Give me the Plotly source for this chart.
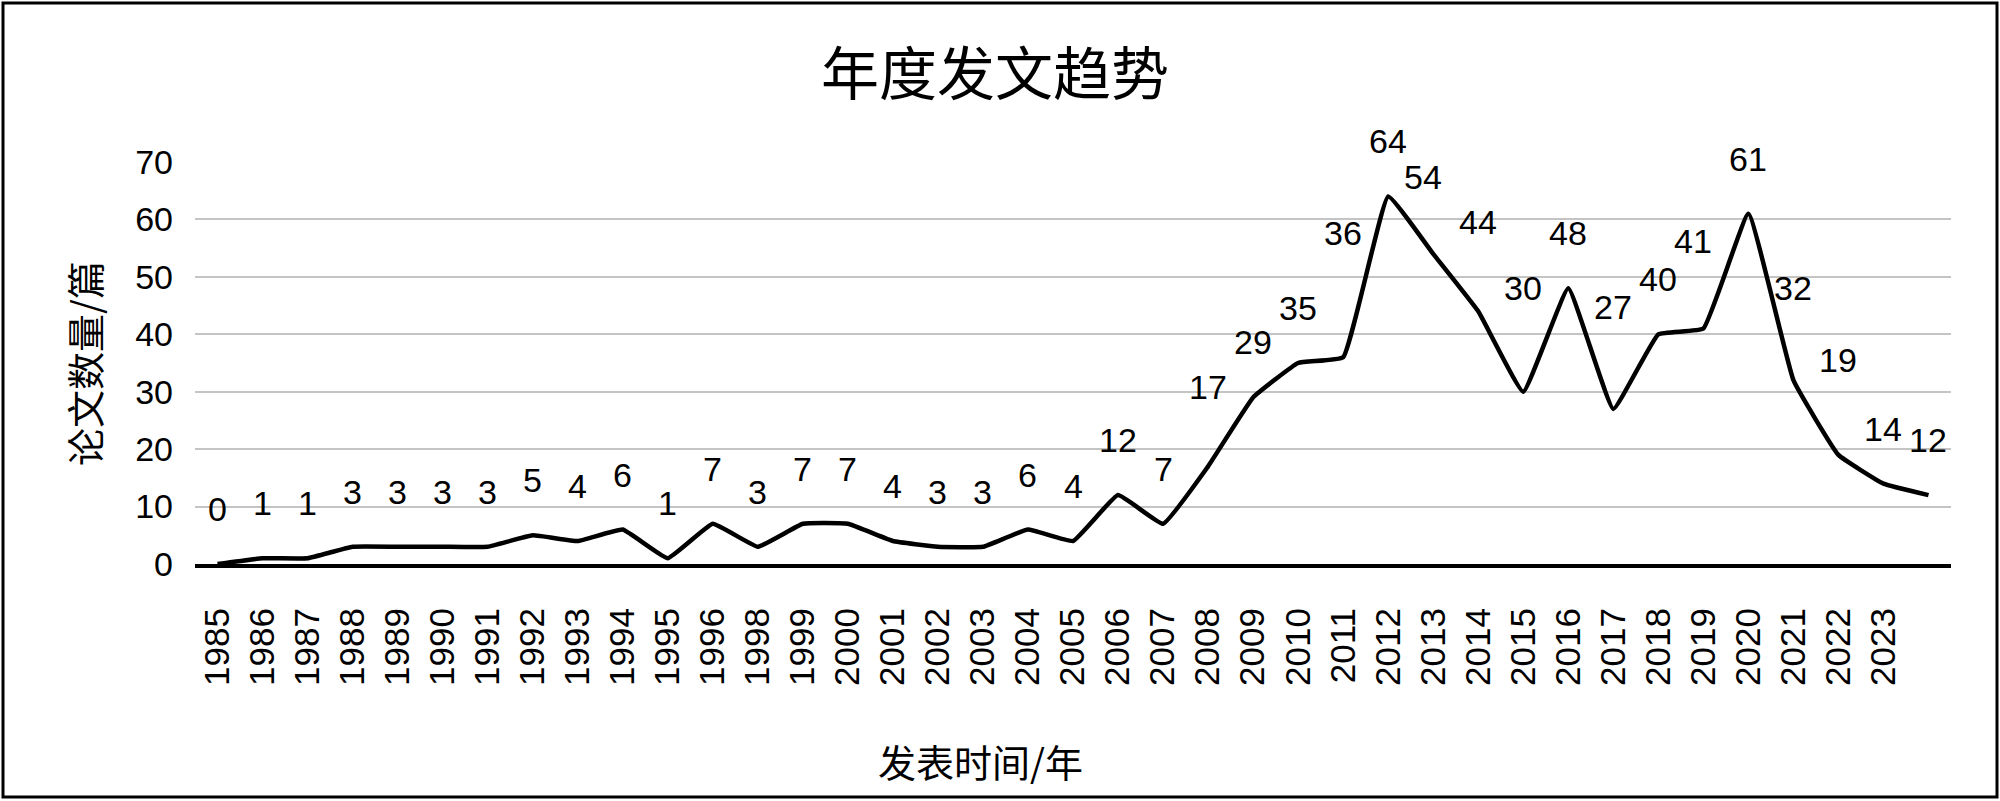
import plotly.graph_objects as go

# ---- data ----
years = ["1985", "1986", "1987", "1988", "1989", "1990", "1991", "1992", "1993", "1994",
         "1995", "1996", "1998", "1999", "2000", "2001", "2002", "2003", "2004", "2005",
         "2006", "2007", "2008", "2009", "2010", "2011", "2012", "2013", "2014", "2015",
         "2016", "2017", "2018", "2019", "2020", "2021", "2022", "2023"]
counts = [0, 1, 1, 3, 3, 3, 3, 5, 4, 6,
          1, 7, 3, 7, 7, 4, 3, 3, 6, 4,
          12, 7, 17, 29, 35, 36, 64, 54, 44, 30,
          48, 27, 40, 41, 61, 32, 19, 14, 12]
y_ticks = [0, 10, 20, 30, 40, 50, 60, 70]

# ---- label placement (pixels above / beside each point) ----
label_up = [55] * len(counts)
label_dx = [0] * len(counts)
for i, up in {22: 79, 25: 124, 27: 77, 28: 89, 29: 104, 31: 102, 33: 88, 35: 92, 36: 95}.items():
    label_up[i] = up
label_dx[27] = -10
label_dx[33] = -10

W, H = 2000, 801
L, R, T, B = 195, 49, 162, 237
pw, ph = W - L - R, H - T - B

def px_x(x):
    return (x - L) / pw

def px_y(y):
    return (H - B - y) / ph

NUM_FONT = "Liberation Sans, Arial, sans-serif"
CJK_FONT = "Noto Sans CJK SC, sans-serif"

idx = list(range(len(counts)))

fig = go.Figure()
fig.add_trace(go.Scatter(
    x=idx, y=counts, mode="lines",
    line=dict(color="black", width=4.5, shape="spline", smoothing=0.3),
    hoverinfo="skip", showlegend=False,
))

annotations = []
for i, v in enumerate(counts):
    annotations.append(dict(
        x=i, y=v, xref="x", yref="y", text=str(v), showarrow=False,
        xanchor="center", yanchor="middle", yshift=label_up[i], xshift=label_dx[i],
        font=dict(family=NUM_FONT, size=34, color="black"),
    ))

annotations.append(dict(
    x=px_x(83), y=0.5, xref="paper", yref="paper", text="论文数量/篇",
    textangle=-90, showarrow=False, xanchor="center", yanchor="middle",
    font=dict(family=CJK_FONT, size=38, color="black"),
))
annotations.append(dict(
    x=px_x(980), y=px_y(760), xref="paper", yref="paper", text="发表时间/年",
    showarrow=False, xanchor="center", yanchor="middle",
    font=dict(family=CJK_FONT, size=38, color="black"),
))
annotations.append(dict(
    x=px_x(995), y=px_y(70), xref="paper", yref="paper", text="年度发文趋势",
    showarrow=False, xanchor="center", yanchor="middle",
    font=dict(family=CJK_FONT, size=58, color="black"),
))

fig.update_layout(
    width=W, height=H,
    margin=dict(l=L, r=R, t=T, b=B, pad=0),
    paper_bgcolor="white", plot_bgcolor="white",
    annotations=annotations,
    shapes=[dict(type="rect", xref="paper", yref="paper",
                 x0=px_x(3), x1=px_x(1997), y0=px_y(797), y1=px_y(3),
                 line=dict(color="black", width=3), fillcolor="rgba(0,0,0,0)", layer="below")],
    xaxis=dict(
        range=[-0.5, len(counts) - 0.5],
        tickmode="array", tickvals=list(range(len(years))), ticktext=years,
        tickangle=-90, showgrid=False, zeroline=False,
        showline=True, linecolor="black", linewidth=4,
        ticks="", ticklabelstandoff=26,
        tickfont=dict(family=NUM_FONT, size=35, color="black"),
    ),
    yaxis=dict(
        range=[0, 70], tickmode="array", tickvals=y_ticks,
        showgrid=True, gridcolor="#c4c4c4", gridwidth=2,
        zeroline=False, showline=False, ticks="", ticklabelstandoff=21,
        tickfont=dict(family=NUM_FONT, size=34, color="black"),
    ),
)

fig.write_html("out.html", config={"displayModeBar": False},
               post_script="document.body.style.margin='0';document.body.style.overflow='hidden';")
